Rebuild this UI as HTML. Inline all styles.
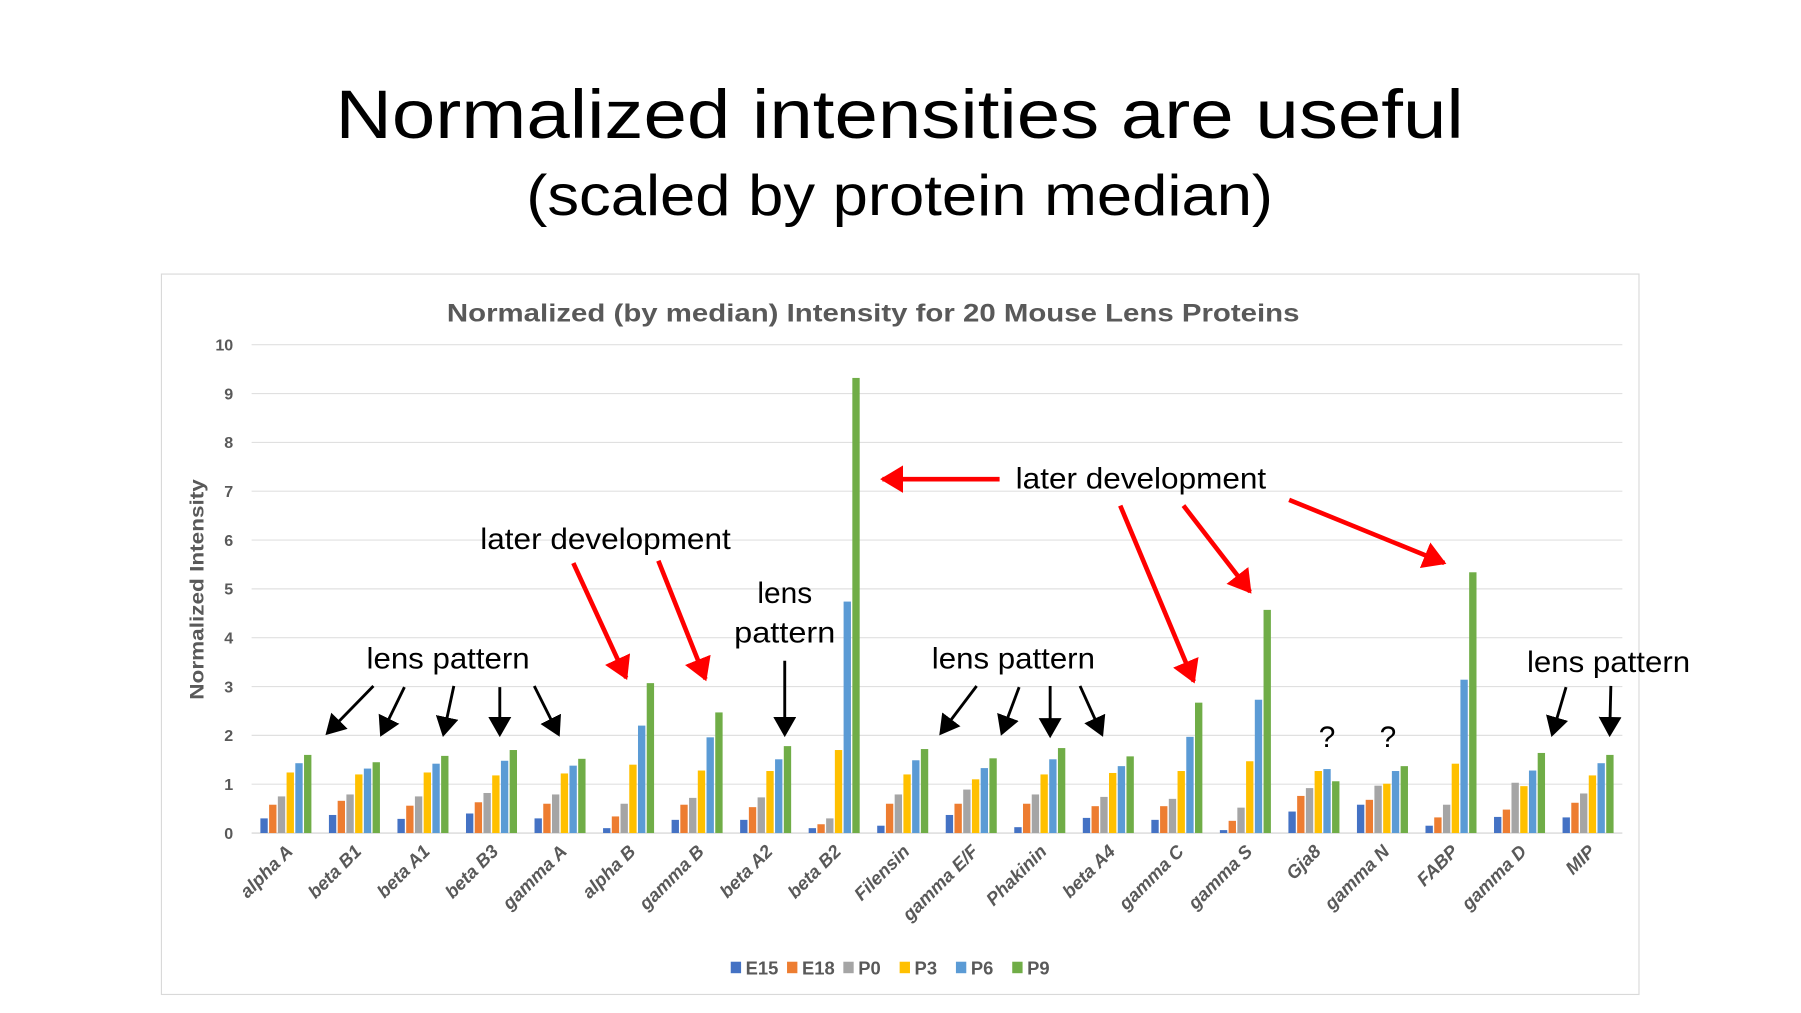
<!DOCTYPE html>
<html><head><meta charset="utf-8"><style>
html,body{margin:0;padding:0;background:#fff;}
svg{display:block;font-family:"Liberation Sans",sans-serif;}
</style></head><body>
<svg id="s" width="1801" height="1013" viewBox="0 0 1567.5 881.6" xmlns="http://www.w3.org/2000/svg">
<defs>
<marker id="ab" markerWidth="8" markerHeight="8" refX="6" refY="4" orient="auto" markerUnits="strokeWidth"><path d="M0,0 L7,4 L0,8 Z" fill="#000"/></marker>
<marker id="ar" markerWidth="6" markerHeight="6" refX="4.5" refY="3" orient="auto" markerUnits="strokeWidth"><path d="M0,0 L5,3 L0,6 Z" fill="#f00"/></marker>
</defs>
<text x="783" y="120" font-size="60" text-anchor="middle" textLength="982" lengthAdjust="spacingAndGlyphs">Normalized intensities are useful</text>
<text x="783" y="187" font-size="50" text-anchor="middle" textLength="650" lengthAdjust="spacingAndGlyphs">(scaled by protein median)</text>
<rect x="140.5" y="238.5" width="1286" height="627" fill="#fff" stroke="#d9d9d9" stroke-width="1"/>
<text x="760" y="280" font-size="22" font-weight="bold" fill="#595959" text-anchor="middle" textLength="742" lengthAdjust="spacingAndGlyphs">Normalized (by median) Intensity for 20 Mouse Lens Proteins</text>
<text transform="translate(177,513) rotate(-90)" font-size="17" font-weight="bold" fill="#595959" text-anchor="middle" textLength="192" lengthAdjust="spacingAndGlyphs">Normalized Intensity</text>
<g id="grid"></g><g id="bars"></g><g id="xl"></g><g id="leg"></g>
<g font-size="26">
<text x="390" y="582" text-anchor="middle" textLength="142" lengthAdjust="spacingAndGlyphs">lens pattern</text>
<line x1="325" y1="597" x2="285" y2="638" stroke="#000" stroke-width="2.5" marker-end="url(#ab)"/>
<line x1="352" y1="598" x2="332" y2="639" stroke="#000" stroke-width="2.5" marker-end="url(#ab)"/>
<line x1="395" y1="597" x2="386" y2="639" stroke="#000" stroke-width="2.5" marker-end="url(#ab)"/>
<line x1="435" y1="598" x2="435" y2="639" stroke="#000" stroke-width="2.5" marker-end="url(#ab)"/>
<line x1="465" y1="597" x2="486" y2="639" stroke="#000" stroke-width="2.5" marker-end="url(#ab)"/>
<text x="527" y="478" text-anchor="middle" textLength="218" lengthAdjust="spacingAndGlyphs">later development</text>
<line x1="499" y1="490" x2="545" y2="590" stroke="#f00" stroke-width="4" marker-end="url(#ar)"/>
<line x1="573" y1="488" x2="614" y2="591" stroke="#f00" stroke-width="4" marker-end="url(#ar)"/>
<text x="683" y="525" text-anchor="middle">lens</text>
<text x="683" y="559" text-anchor="middle" textLength="88" lengthAdjust="spacingAndGlyphs">pattern</text>
<line x1="683" y1="575" x2="683" y2="639" stroke="#000" stroke-width="2.5" marker-end="url(#ab)"/>
<line x1="870" y1="417" x2="768" y2="417" stroke="#f00" stroke-width="4" marker-end="url(#ar)"/>
<text x="993" y="425" text-anchor="middle" textLength="218" lengthAdjust="spacingAndGlyphs">later development</text>
<line x1="975" y1="440" x2="1039" y2="593" stroke="#f00" stroke-width="4" marker-end="url(#ar)"/>
<line x1="1030" y1="440" x2="1088" y2="515" stroke="#f00" stroke-width="4" marker-end="url(#ar)"/>
<line x1="1122" y1="435" x2="1257" y2="490" stroke="#f00" stroke-width="4" marker-end="url(#ar)"/>
<text x="882" y="582" text-anchor="middle" textLength="142" lengthAdjust="spacingAndGlyphs">lens pattern</text>
<line x1="850" y1="597" x2="819" y2="638" stroke="#000" stroke-width="2.5" marker-end="url(#ab)"/>
<line x1="887" y1="598" x2="872" y2="638" stroke="#000" stroke-width="2.5" marker-end="url(#ab)"/>
<line x1="914" y1="597" x2="914" y2="640" stroke="#000" stroke-width="2.5" marker-end="url(#ab)"/>
<line x1="940" y1="597" x2="959" y2="639" stroke="#000" stroke-width="2.5" marker-end="url(#ab)"/>
<text x="1155" y="650" text-anchor="middle">?</text>
<text x="1208" y="650" text-anchor="middle">?</text>
<text x="1400" y="585" text-anchor="middle" textLength="142" lengthAdjust="spacingAndGlyphs">lens pattern</text>
<line x1="1363" y1="598" x2="1351" y2="639" stroke="#000" stroke-width="2.5" marker-end="url(#ab)"/>
<line x1="1402" y1="597" x2="1401" y2="639" stroke="#000" stroke-width="2.5" marker-end="url(#ab)"/>
</g>
</svg>
<script>
const categories=["alpha A","beta B1","beta A1","beta B3","gamma A","alpha B","gamma B","beta A2","beta B2","Filensin","gamma E/F","Phakinin","beta A4","gamma C","gamma S","Gja8","gamma N","FABP","gamma D","MIP"];
const seriesNames=["E15","E18","P0","P3","P6","P9"];
const E15=[.3,.37,.29,.4,.3,.1,.27,.27,.1,.15,.37,.12,.31,.27,.06,.44,.58,.15,.33,.32];
const E18=[.58,.66,.56,.63,.6,.34,.58,.53,.18,.6,.6,.6,.55,.55,.25,.76,.68,.32,.48,.62];
const P0=[.75,.79,.75,.82,.79,.6,.72,.73,.3,.79,.89,.79,.74,.7,.52,.92,.97,.58,1.03,.81];
const P3=[1.24,1.2,1.24,1.18,1.22,1.4,1.28,1.27,1.7,1.2,1.1,1.2,1.23,1.27,1.47,1.27,1.01,1.42,.96,1.18];
const P6=[1.43,1.32,1.42,1.48,1.38,2.2,1.96,1.51,4.74,1.49,1.33,1.51,1.37,1.97,2.73,1.31,1.27,3.14,1.28,1.43];
const P9=[1.6,1.45,1.58,1.7,1.52,3.07,2.47,1.78,9.32,1.72,1.53,1.74,1.57,2.67,4.57,1.06,1.37,5.34,1.64,1.6];
const yTicks=[0,1,2,3,4,5,6,7,8,9,10];
const series=[E15,E18,P0,P3,P6,P9];
const colors=["#4472c4","#ed7d31","#a5a5a5","#ffc000","#5b9bd5","#70ad47"];
const NS="http://www.w3.org/2000/svg";
const X0=219,X1=1412,Y0=725,Y1=300;
const y=v=>Y0-(v/10)*(Y0-Y1);
const bw=(X1-X0)/categories.length;
const x=i=>X0+bw*i+bw/2;
function mk(t,a,p){const e=document.createElementNS(NS,t);for(const k in a)e.setAttribute(k,a[k]);p.appendChild(e);return e;}
const grid=document.getElementById('grid');
yTicks.forEach(t=>{
 const l=mk('line',{x1:X0,x2:X1,y1:y(t),y2:y(t),stroke:t===0?'#d0d0d0':'#e0e0e0','stroke-width':1},grid);
 
 
 const tx=mk('text',{x:203,y:y(t)+5,'text-anchor':'end','font-size':14,'font-weight':'bold',fill:'#595959'},grid);
 tx.textContent=t;
 
 
});
const bars=document.getElementById('bars');
const barW=7.6;
categories.forEach((c,i)=>{
 series.forEach((s,j)=>{
  const r=mk('rect',{x:x(i)+(j-3)*barW+0.6,y:y(s[i]),width:barW-1.2,height:Y0-y(s[i]),fill:colors[j]},bars);
  
  
 });
});
const xl=document.getElementById('xl');
categories.forEach((c,i)=>{
 const t=mk('text',{transform:`translate(${x(i)+7},${742}) rotate(-45)`,'text-anchor':'end','font-size':16,'font-weight':'bold','font-style':'italic',fill:'#595959'},xl);
 t.textContent=c;
 
 
});
const leg=document.getElementById('leg');
seriesNames.forEach((n,j)=>{
 const lx=636+j*49;
 const g=mk('g',{},leg);
 
 
 mk('rect',{x:lx,y:837,width:9,height:10,fill:colors[j]},g);
 const t=mk('text',{x:lx+13,y:848,'font-size':16,'font-weight':'bold',fill:'#595959'},g);
 t.textContent=n;
});
</script>
</body></html>
